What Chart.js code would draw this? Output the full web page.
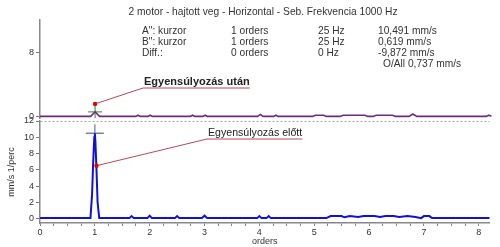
<!DOCTYPE html>
<html>
<head>
  <title>Egyensúlyozás spektrum</title>
  <script src="https://cdn.jsdelivr.net/npm/chart.js"></script>
  <style>
    body { margin: 0; background: #fff; font-family: "Liberation Sans", Arial, sans-serif; }
    #wrap { position: relative; width: 500px; height: 247px; overflow: hidden; }
    canvas { position: absolute; left: 0; top: 0; }
    .txt { position: absolute; font-size: 10.2px; color: #333; white-space: nowrap; line-height: 11px; }
  </style>
</head>
<body>
<div id="wrap">
  <canvas id="topChart" width="500" height="247"></canvas>
  <canvas id="bottomChart" width="500" height="247"></canvas>
  <div class="txt" style="left:0;width:526px;text-align:center;top:6px;">2 motor - hajtott veg - Horizontal - Seb. Frekvencia 1000 Hz</div>
</div>

<script>
  // spectrum after balancing (purple, upper plot) - [order, mm/s]
  const afterSpectrum = [
    [0, 0.05], [0.92, 0.05], [1.0, 0.62], [1.08, 0.05], [1.74, 0.05], [1.78, 0.2], [1.82, 0.05],
    [1.96, 0.05], [2.0, 0.2], [2.04, 0.05], [2.73, 0.05], [2.77, 0.2], [2.81, 0.05],
    [2.96, 0.05], [3.0, 0.2], [3.04, 0.05], [3.95, 0.05], [4.0, 0.3], [4.05, 0.05],
    [4.24, 0.05], [4.28, 0.2], [4.32, 0.05], [4.95, 0.05], [5.0, 0.2], [5.15, 0.2], [5.2, 0.05],
    [5.45, 0.05], [5.5, 0.2], [5.9, 0.2], [5.95, 0.05], [6.05, 0.05], [6.1, 0.2], [6.4, 0.2],
    [6.45, 0.05], [6.7, 0.05], [6.77, 0.35], [6.84, 0.05], [8.1, 0.05], [8.15, 0.2], [8.2, 0.05]
  ];

  // spectrum before balancing (blue, lower plot)
  const beforeSpectrum = [
    [0, 0.05], [0.92, 0.05], [0.95, 3], [0.97, 7], [0.99, 10], [1.0, 10.49], [1.01, 9.5],
    [1.03, 6], [1.05, 2], [1.08, 0.05], [1.63, 0.05], [1.67, 0.3], [1.71, 0.05],
    [1.96, 0.05], [2.0, 0.35], [2.04, 0.05], [2.46, 0.05], [2.5, 0.3], [2.54, 0.05],
    [2.95, 0.05], [3.0, 0.35], [3.05, 0.05], [3.96, 0.05], [4.0, 0.3], [4.04, 0.05],
    [4.13, 0.05], [4.17, 0.3], [4.21, 0.05], [5.22, 0.05], [5.3, 0.3], [5.5, 0.3], [5.55, 0.15],
    [5.65, 0.3], [5.8, 0.2], [5.9, 0.3], [6.1, 0.3], [6.2, 0.2], [6.3, 0.3], [6.45, 0.3],
    [6.55, 0.2], [6.7, 0.3], [6.85, 0.2], [6.95, 0.05], [7.0, 0.3], [7.1, 0.3], [7.15, 0.05], [8.2, 0.05]
  ];

  // cursor readout
  const cursorNames = ['A": kurzor', 'B": kurzor', 'Diff.:'];
  const cursorOrders = ['1 orders', '1 orders', '0 orders'];
  const cursorFreq = ['25 Hz', '25 Hz', '0 Hz'];
  const cursorValues = ['10,491 mm/s', '0,619 mm/s', '-9,872 mm/s'];
  const overallText = 'O/All 0,737 mm/s';

  const cursorA = [1, 10.491];
  const cursorB = [1, 0.619];

  const topTicks = [0, 8];
  const bottomTicks = [0, 2, 4, 6, 8, 10, 12];
  const orderTicks = [0, 1, 2, 3, 4, 5, 6, 7, 8];
  const minorPerOrder = 4;

  // annotation anchors (data) and where the label sits (px)
  const afterNote = { text: 'Egyensúlyozás után', bold: true, size: 11, at: [1, 1.6], lx: 143, ly: 88 };
  const beforeNote = { text: 'Egyensúlyozás előtt', bold: false, size: 10.6, at: [1.03, 6.5], lx: 207, ly: 139 };

  // info block
  const wrap = document.getElementById('wrap');
  const cols = [142, 231, 318, 378];
  function addText(t, x, y) {
    const d = document.createElement('div');
    d.className = 'txt';
    d.style.left = x + 'px';
    d.style.top = y + 'px';
    d.textContent = t;
    wrap.appendChild(d);
  }
  cursorNames.forEach((n, i) => {
    [n, cursorOrders[i], cursorFreq[i], cursorValues[i]].forEach((t, j) => addText(t, cols[j], 25 + i * 11));
  });
  addText(overallText, 383, 58);

  const pts = arr => arr.map(p => ({ x: p[0], y: p[1] }));

  function notePlugin(note) {
    return {
      id: 'note',
      afterDatasetsDraw(chart) {
        const c = chart.ctx;
        const px = chart.scales.x.getPixelForValue(note.at[0]);
        const py = chart.scales.y.getPixelForValue(note.at[1]);
        c.save();
        c.font = (note.bold ? 'bold ' : '') + note.size + 'px "Liberation Sans", Arial, sans-serif';
        const w = c.measureText(note.text).width;
        c.strokeStyle = '#b04a5a';
        c.lineWidth = 1;
        c.beginPath();
        c.moveTo(px, py);
        c.lineTo(note.lx, note.ly);
        c.lineTo(note.lx + w + 1, note.ly);
        c.stroke();
        c.fillStyle = '#222';
        c.fillText(note.text, note.lx + 1, note.ly - 3);
        c.fillStyle = '#e00000';
        c.beginPath();
        c.arc(px, py, 2.2, 0, Math.PI * 2);
        c.fill();
        c.restore();
      }
    };
  }

  const tickFont = { size: 9, family: '"Liberation Sans", Arial, sans-serif' };

  new Chart(document.getElementById('topChart'), {
    type: 'line',
    data: {
      datasets: [{
        data: pts(afterSpectrum),
        borderColor: '#6b2c7c',
        borderWidth: 1.6,
        pointRadius: 0,
        tension: 0
      }, {
        data: [{ x: cursorB[0], y: cursorB[1] }],
        showLine: false,
        pointStyle: 'cross',
        pointRadius: 7,
        borderColor: '#5c9a62',
        borderWidth: 1.3
      }]
    },
    options: {
      responsive: false,
      animation: false,
      layout: { padding: { top: 20, bottom: 129, right: 3, left: 0 } },
      plugins: { legend: { display: false }, tooltip: { enabled: false } },
      scales: {
        x: { type: 'linear', min: 0, max: 8.2, display: false },
        y: {
          min: -0.15, max: 12,
          afterFit: s => { s.width = 40; },
          afterBuildTicks: s => { s.ticks = topTicks.map(v => ({ value: v })); },
          ticks: { font: tickFont, color: '#333', padding: 2 },
          grid: { drawOnChartArea: false, tickLength: 4, tickColor: '#777' },
          border: { color: '#888', width: 1.5 }
        }
      }
    },
    plugins: [notePlugin(afterNote)]
  });

  new Chart(document.getElementById('bottomChart'), {
    type: 'line',
    data: {
      datasets: [{
        data: pts(beforeSpectrum),
        borderColor: '#1010d8',
        borderWidth: 2,
        pointRadius: 0,
        tension: 0
      }, {
        data: [{ x: cursorA[0], y: cursorA[1] }],
        showLine: false,
        pointStyle: 'cross',
        pointRadius: 9,
        borderColor: '#7482a6',
        borderWidth: 1.3
      }]
    },
    options: {
      responsive: false,
      animation: false,
      layout: { padding: { top: 121, bottom: 0, right: 3, left: 0 } },
      plugins: { legend: { display: false }, tooltip: { enabled: false } },
      scales: {
        x: {
          type: 'linear', min: 0, max: 8.2,
          afterFit: s => { s.height = 24; },
          afterBuildTicks: s => {
            const t = [];
            const last = orderTicks[orderTicks.length - 1];
            for (let i = 0; i <= last * minorPerOrder; i++) t.push({ value: i / minorPerOrder });
            s.ticks = t;
          },
          ticks: {
            autoSkip: false, maxRotation: 0, font: tickFont, color: '#333', padding: 1,
            callback: v => orderTicks.includes(v) ? v : ''
          },
          grid: { drawOnChartArea: false, tickLength: 3, tickColor: '#888' },
          border: { color: '#888', width: 1.5 },
          title: { display: true, text: 'orders', font: tickFont, color: '#333', padding: 0 }
        },
        y: {
          min: -0.55, max: 12,
          afterFit: s => { s.width = 40; },
          afterBuildTicks: s => { s.ticks = bottomTicks.map(v => ({ value: v })); },
          ticks: { font: tickFont, color: '#333', padding: 2 },
          grid: {
            color: c => (c.tick && c.tick.value === 12) ? '#aaa' : 'rgba(0,0,0,0)',
            tickLength: 4, tickColor: '#777'
          },
          border: { color: '#888', width: 1.5, dash: [2, 2] },
          title: { display: true, text: 'mm/s 1/perc', font: tickFont, color: '#333', padding: 6 }
        }
      }
    },
    plugins: [notePlugin(beforeNote)]
  });
</script>
</body>
</html>
